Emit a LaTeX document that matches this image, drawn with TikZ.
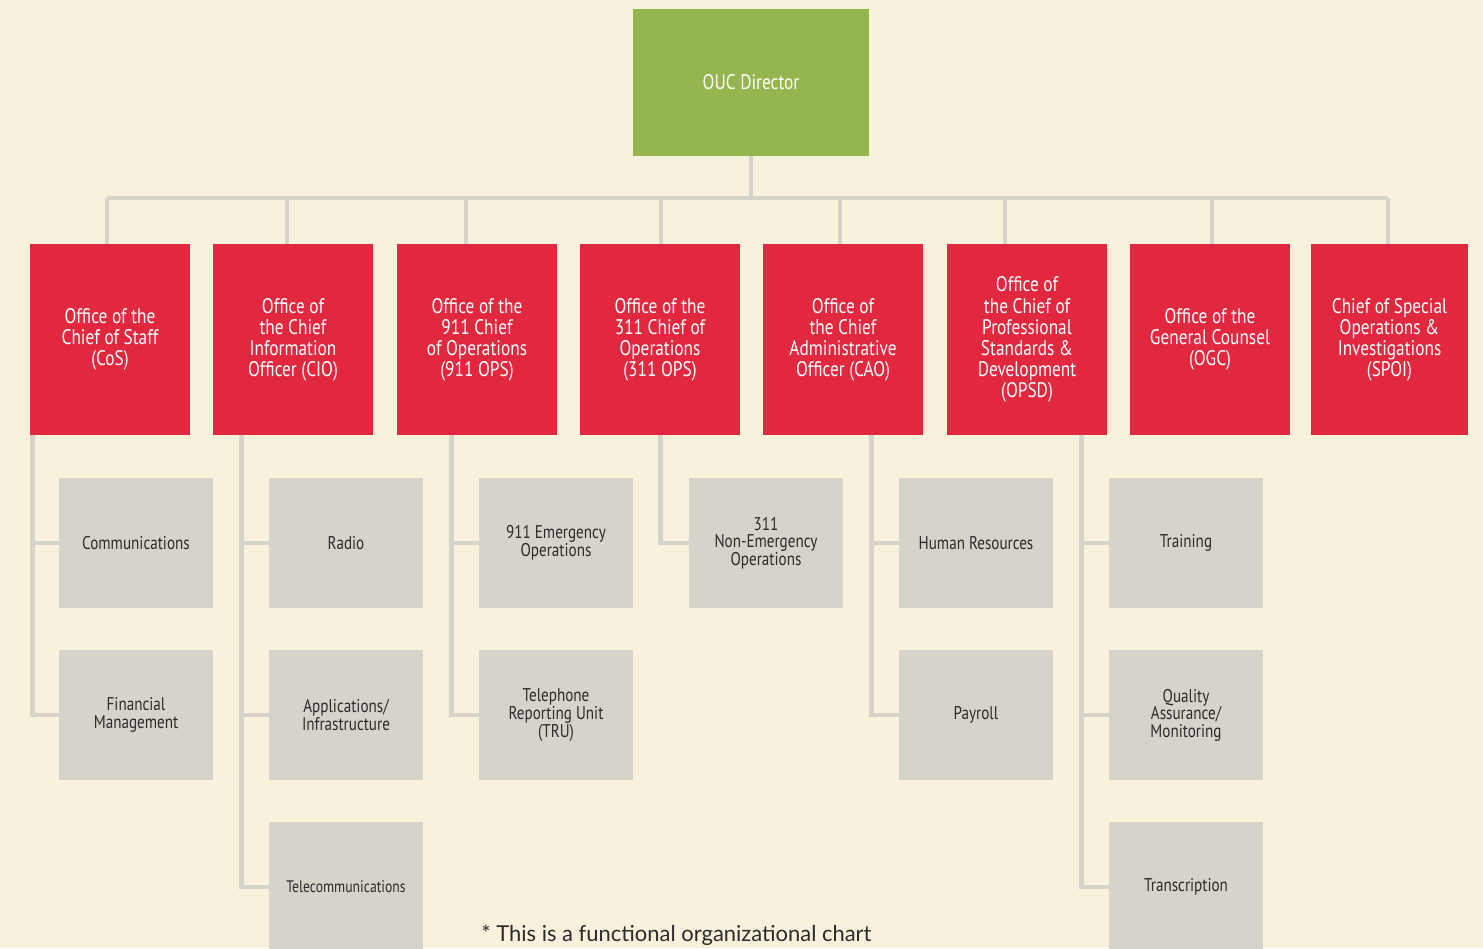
\documentclass[tikz,border=0pt]{standalone}
\usepackage{fontspec}
\setmainfont{PT Sans}[FakeStretch=0.82]
\newfontfamily\notefont{Lato}
\usetikzlibrary{positioning,calc}
\definecolor{cream}{HTML}{F8F2DC}
\definecolor{dirgreen}{HTML}{95B64E}
\definecolor{offred}{HTML}{E1283F}
\definecolor{unitgrey}{HTML}{D6D3CA}
\definecolor{inkgrey}{HTML}{2B2B2B}
\tikzset{dirbox/.style={fill=dirgreen,text=white,minimum width=4.72cm,minimum height=2.94cm,align=center,inner sep=0pt,font=\fontsize{12}{12}\selectfont},
  office/.style={fill=offred,text=white,minimum width=3.2cm,minimum height=3.82cm,align=center,inner sep=0pt,font=\fontsize{12}{12}\selectfont},
  unit/.style={fill=unitgrey,text=inkgrey,minimum width=3.08cm,minimum height=2.6cm,align=center,inner sep=0pt,font=\fontsize{10.5}{10}\selectfont},
  link/.style={draw=unitgrey,line width=2.6pt}}
\begin{document}
\begin{tikzpicture}[x=0.02cm,y=-0.02cm]
\useasboundingbox (0,0) rectangle (1483,948);
\clip (0,0) rectangle (1483,948);
\fill[cream] (0,0) rectangle (1483,948);
% director and offices
\node[dirbox] (dir) at (751,82.5) {OUC Director};
\node[office] (cos) at (110,339.5) {Office of the\\Chief of Staff\\(CoS)};
\node[office] (cio) at (293,339.5) {Office of\\the Chief\\Information\\Officer (CIO)};
\node[office] (ops911) at (477,339.5) {Office of the\\911 Chief\\of Operations\\(911 OPS)};
\node[office] (ops311) at (660,339.5) {Office of the\\311 Chief of\\Operations\\(311 OPS)};
\node[office] (cao) at (843,339.5) {Office of\\the Chief\\Administrative\\Officer (CAO)};
\node[office] (opsd) at (1027,339.5) {Office of\\the Chief of\\Professional\\Standards \&\\Development\\(OPSD)};
\node[office] (ogc) at (1210,339.5) {Office of the\\General Counsel\\(OGC)};
\node[office,minimum width=3.14cm] (spoi) at (1389.5,339.5) {Chief of Special\\Operations \&\\Investigations\\(SPOI)};
% units
\node[unit] (comm) at (136,543) {Communications};
\node[unit] (fin) at (136,715) {Financial\\Management};
\node[unit] (radio) at (346,543) {Radio};
\node[unit] (apps) at (346,715) {Applications/\\Infrastructure};
\node[unit,font=\fontsize{9.5}{10}\selectfont] (tele) at (346,887) {Telecommunications};
\node[unit] (emerg) at (556,543) {911 Emergency\\Operations};
\node[unit] (tru) at (556,715) {Telephone\\Reporting Unit\\(TRU)};
\node[unit] (nonem) at (766,543) {311\\Non-Emergency\\Operations};
\node[unit] (hr) at (976,543) {Human Resources};
\node[unit] (pay) at (976,715) {Payroll};
\node[unit] (train) at (1186,543) {Training};
\node[unit] (qa) at (1186,715) {Quality\\Assurance/\\Monitoring};
\node[unit] (trans) at (1186,887) {Transcription};
% bus
\coordinate (d1) at (107,198);
\coordinate (d2) at (287,198);
\coordinate (d3) at (466,198);
\coordinate (d4) at (661,198);
\coordinate (d5) at (840,198);
\coordinate (d6) at (1005,198);
\coordinate (d7) at (1212,198);
\coordinate (d8) at (1388,198);
\draw[link] (dir.south) -- (dir.south |- d1);
\draw[link] (d1) -- (d8);
\foreach \d/\o in {d1/cos,d2/cio,d3/ops911,d4/ops311,d5/cao,d6/opsd,d7/ogc,d8/spoi}
  \draw[link] (\d) -- (\d |- \o.north);
% spines
\coordinate (s1) at ([xshift=-0.52cm]comm.west);
\coordinate (s2) at ([xshift=-0.54cm]radio.west);
\coordinate (s3) at ([xshift=-0.54cm]emerg.west);
\coordinate (s4) at ([xshift=-0.56cm]nonem.west);
\coordinate (s5) at ([xshift=-0.54cm]hr.west);
\coordinate (s6) at ([xshift=-0.54cm]train.west);
\draw[link] (cos.south -| s1) |- (comm.west);
\draw[link] (cos.south -| s1) |- (fin.west);
\draw[link] (cio.south -| s2) |- (radio.west);
\draw[link] (cio.south -| s2) |- (apps.west);
\draw[link] (cio.south -| s2) |- (tele.west);
\draw[link] (ops911.south -| s3) |- (emerg.west);
\draw[link] (ops911.south -| s3) |- (tru.west);
\draw[link] (ops311.south -| s4) |- (nonem.west);
\draw[link] (cao.south -| s5) |- (hr.west);
\draw[link] (cao.south -| s5) |- (pay.west);
\draw[link] (opsd.south -| s6) |- (train.west);
\draw[link] (opsd.south -| s6) |- (qa.west);
\draw[link] (opsd.south -| s6) |- (trans.west);
\node[anchor=base west,inner sep=0pt,text=inkgrey,font=\notefont\fontsize{12.5}{13}\selectfont] (note) at (481,941) {* This is a functional organizational chart};
\end{tikzpicture}
\end{document}
